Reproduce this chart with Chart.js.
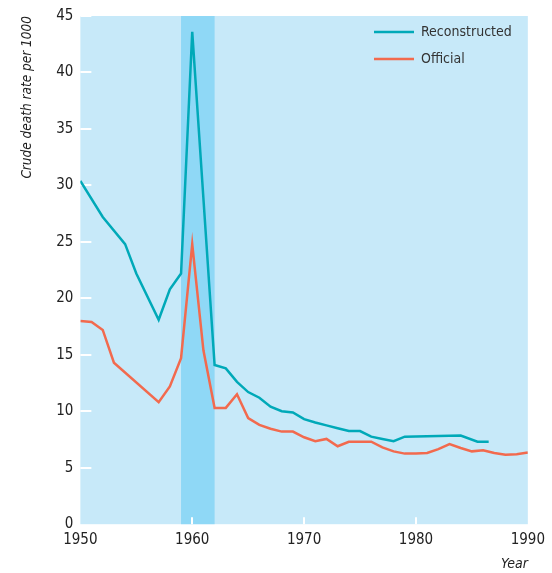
<!DOCTYPE html>
<html>
<head>
<meta charset="utf-8">
<script src="https://cdn.jsdelivr.net/npm/chart.js@4/dist/chart.umd.min.js"></script>
<style>
  html, body { margin: 0; padding: 0; background: #ffffff; }
  #wrap { width: 552px; height: 573px; }
</style>
</head>
<body>
<div id="wrap"><canvas id="c" width="552" height="573"></canvas></div>
<script>
const reconYears = [1950,1952,1954,1955,1957,1958,1959,1960,1962,1963,1964,1965,1966,1967,1968,1969,1970,1971,1972,1973,1974,1975,1976,1977,1978,1979,1984,1985.5,1986.5];
const reconValues = [30.4,27.2,24.8,22.2,18.1,20.8,22.2,43.6,14.1,13.8,12.6,11.7,11.2,10.4,10.0,9.9,9.3,9.0,8.75,8.5,8.25,8.25,7.75,7.55,7.35,7.75,7.85,7.3,7.3];

const officialYears = [1950,1951,1952,1953,1957,1958,1959,1960,1961,1962,1963,1964,1965,1966,1967,1968,1969,1970,1971,1972,1973,1974,1975,1976,1977,1978,1979,1980,1981,1982,1983,1984,1985,1986,1987,1988,1989,1990];
const officialValues = [18.0,17.9,17.2,14.3,10.8,12.2,14.7,24.8,15.4,10.3,10.3,11.5,9.4,8.8,8.45,8.2,8.2,7.7,7.35,7.55,6.9,7.3,7.3,7.3,6.8,6.45,6.25,6.25,6.3,6.65,7.1,6.75,6.45,6.55,6.3,6.15,6.2,6.35];

const seriesNames = ["Reconstructed", "Official"];
const bandRange = [1959, 1962];
const xTickValues = [1950, 1960, 1970, 1980, 1990];
const yTickValues = [0, 5, 10, 15, 20, 25, 30, 35, 40, 45];

const COLORS = { recon: "#00a9b8", official: "#f26a4e", bg: "#c7e9f9", band: "#8fd8f6" };
const FONT = "'Liberation Sans Narrow', 'DejaVu Sans Condensed', 'Liberation Sans', sans-serif";

const toPts = (xs, ys) => xs.map((x, i) => ({ x: x, y: ys[i] }));

const backgroundPlugin = {
  id: "bgband",
  beforeDatasetsDraw(chart) {
    const { ctx, chartArea: a, scales } = chart;
    ctx.save();
    ctx.fillStyle = COLORS.bg;
    ctx.fillRect(a.left, a.top, a.right - a.left, a.bottom - a.top);
    const x0 = scales.x.getPixelForValue(bandRange[0]);
    const x1 = scales.x.getPixelForValue(bandRange[1]);
    ctx.fillStyle = COLORS.band;
    ctx.fillRect(x0, a.top, x1 - x0, a.bottom - a.top);
    ctx.strokeStyle = "#ffffff";
    ctx.lineWidth = 2;
    ctx.beginPath();
    yTickValues.forEach(v => {
      if (v === 0) return;
      const y = Math.round(scales.y.getPixelForValue(v));
      ctx.moveTo(a.left, y); ctx.lineTo(a.left + 11, y);
    });
    xTickValues.forEach(v => {
      if (v === xTickValues[0] || v === xTickValues[xTickValues.length - 1]) return;
      const x = Math.round(scales.x.getPixelForValue(v));
      ctx.moveTo(x, a.bottom); ctx.lineTo(x, a.bottom - 7);
    });
    ctx.stroke();
    ctx.restore();
  },
  afterDatasetsDraw(chart) {
    const { ctx, chartArea: a } = chart;
    ctx.save();
    const items = [
      { label: seriesNames[0], color: COLORS.recon },
      { label: seriesNames[1], color: COLORS.official }
    ];
    ctx.font = "14px " + FONT;
    ctx.textBaseline = "middle";
    items.forEach((it, i) => {
      const y = a.top + 16 + i * 27;
      ctx.strokeStyle = it.color;
      ctx.lineWidth = 2.5;
      ctx.beginPath();
      ctx.moveTo(374, y); ctx.lineTo(414, y);
      ctx.stroke();
      ctx.fillStyle = "#333333";
      ctx.fillText(it.label, 421, y);
    });
    ctx.restore();
  }
};

new Chart(document.getElementById("c"), {
  type: "line",
  data: {
    datasets: [
      { label: seriesNames[0], data: toPts(reconYears, reconValues), borderColor: COLORS.recon, borderWidth: 2.5, pointRadius: 0, tension: 0, fill: false },
      { label: seriesNames[1], data: toPts(officialYears, officialValues), borderColor: COLORS.official, borderWidth: 2.5, pointRadius: 0, tension: 0, fill: false }
    ]
  },
  options: {
    responsive: false,
    animation: false,
    devicePixelRatio: 1,
    layout: { padding: { top: 15, right: 18, left: 19, bottom: 0 } },
    plugins: { legend: { display: false }, tooltip: { enabled: false } },
    scales: {
      x: {
        type: "linear", min: 1950, max: 1990,
        afterBuildTicks: s => { s.ticks = xTickValues.map(v => ({ value: v })); },
        ticks: { color: "#222", font: { family: FONT, size: 15 }, padding: 7, maxRotation: 0, callback: v => String(v) },
        grid: { display: false, drawTicks: false },
        border: { display: false },
        title: { display: true, text: "Year", align: "end", color: "#222", font: { family: FONT, size: 14, style: "italic" }, padding: { top: 0, bottom: 0 } }
      },
      y: {
        type: "linear", min: 0, max: 45,
        afterBuildTicks: s => { s.ticks = yTickValues.map(v => ({ value: v })); },
        ticks: { color: "#222", font: { family: FONT, size: 15 }, padding: 7 },
        grid: { display: false, drawTicks: false },
        border: { display: false },
        title: { display: true, text: "Crude death rate per 1000", align: "end", color: "#222", font: { family: FONT, size: 13.5, style: "italic" }, padding: { top: 0, bottom: 14 } }
      }
    }
  },
  plugins: [backgroundPlugin]
});
</script>
</body>
</html>
